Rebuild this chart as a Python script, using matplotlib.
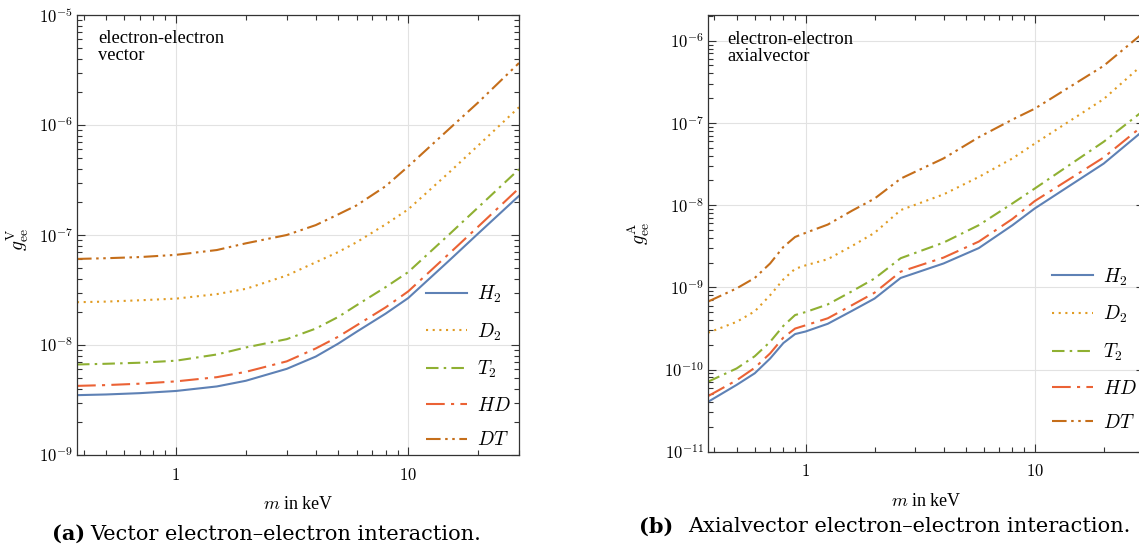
import numpy as np
import matplotlib
matplotlib.use('Agg')
import matplotlib.pyplot as plt
from matplotlib.ticker import LogLocator, FixedLocator, FuncFormatter, NullFormatter

plt.rcParams['mathtext.fontset'] = 'cm'
plt.rcParams['font.family'] = ['Liberation Serif', 'DejaVu Serif']

# ---- data (m in keV) ----
# (a) vector coupling
m_vec = [0.375, 0.5, 0.7, 1.0, 1.5, 2.0, 3.0, 4.0, 5.0, 6.0, 8.0, 10.0, 15.0, 20.0, 30.0]
h2_vec = [3.5e-9, 3.55e-9, 3.65e-9, 3.82e-9, 4.2e-9, 4.73e-9, 6.07e-9, 7.85e-9, 1.03e-8,
          1.32e-8, 1.93e-8, 2.67e-8, 5.85e-8, 1.03e-7, 2.27e-7]
d2_vec = [2.45e-8, 2.48e-8, 2.55e-8, 2.64e-8, 2.9e-8, 3.24e-8, 4.28e-8, 5.65e-8, 7.0e-8,
          8.6e-8, 1.25e-7, 1.71e-7, 3.7e-7, 6.5e-7, 1.45e-6]
t2_vec = [6.65e-9, 6.75e-9, 6.9e-9, 7.2e-9, 8.2e-9, 9.5e-9, 1.13e-8, 1.41e-8, 1.8e-8,
          2.3e-8, 3.36e-8, 4.6e-8, 1.01e-7, 1.78e-7, 3.96e-7]
hd_vec = [4.25e-9, 4.32e-9, 4.45e-9, 4.67e-9, 5.1e-9, 5.7e-9, 7.1e-9, 9.3e-9, 1.19e-8,
          1.51e-8, 2.2e-8, 3.07e-8, 6.76e-8, 1.19e-7, 2.66e-7]
dt_vec = [6.06e-8, 6.15e-8, 6.3e-8, 6.6e-8, 7.3e-8, 8.4e-8, 1.0e-7, 1.23e-7, 1.54e-7,
          1.86e-7, 2.78e-7, 4.2e-7, 9.2e-7, 1.6e-6, 3.66e-6]

# (b) axialvector coupling
m_ax = [0.375, 0.5, 0.6, 0.7, 0.8, 0.9, 1.0, 1.25, 1.6, 2.0, 2.6, 4.0, 5.7, 8.0, 10.0, 20.0, 30.0]
h2_ax = [4.04e-11, 6.5e-11, 9.0e-11, 1.36e-10, 2.1e-10, 2.7e-10, 2.9e-10, 3.6e-10, 5.2e-10,
         7.3e-10, 1.3e-9, 1.95e-9, 3.0e-9, 5.7e-9, 9.1e-9, 3.2e-8, 8.2e-8]
d2_ax = [2.8e-10, 3.8e-10, 5.1e-10, 8.0e-10, 1.25e-9, 1.68e-9, 1.85e-9, 2.2e-9, 3.2e-9,
         4.6e-9, 8.7e-9, 1.35e-8, 2.2e-8, 3.7e-8, 5.6e-8, 1.95e-7, 5.3e-7]
t2_ax = [7.1e-11, 1.03e-10, 1.45e-10, 2.17e-10, 3.4e-10, 4.6e-10, 5.0e-10, 6.2e-10, 9.0e-10,
         1.28e-9, 2.26e-9, 3.5e-9, 5.7e-9, 1.05e-8, 1.59e-8, 5.9e-8, 1.43e-7]
hd_ax = [4.74e-11, 7.4e-11, 1.05e-10, 1.57e-10, 2.45e-10, 3.15e-10, 3.45e-10, 4.2e-10, 6.1e-10,
         8.6e-10, 1.55e-9, 2.3e-9, 3.6e-9, 6.8e-9, 1.12e-8, 3.8e-8, 9.5e-8]
dt_ax = [6.7e-10, 9.7e-10, 1.3e-9, 1.95e-9, 3.1e-9, 4.1e-9, 4.6e-9, 5.8e-9, 8.6e-9,
         1.2e-8, 2.1e-8, 3.7e-8, 6.7e-8, 1.1e-7, 1.49e-7, 4.95e-7, 1.27e-6]

labels = ['$H_2$', '$D_2$', '$T_2$', '$HD$', '$DT$']
colors = ['#5E81B5', '#E19C24', '#8FB032', '#EB6235', '#C56E1A']
styles = ['-', (0, (1, 2.2)), (0, (6, 2.5, 1.2, 2.5)), (0, (9, 3, 1.5, 3)),
          (0, (7, 2.2, 1.2, 2.2, 1.2, 2.2))]

fig = plt.figure(figsize=(11.39, 5.51), dpi=100)
ax1 = fig.add_axes([77 / 1139, 1 - 455 / 551, 442 / 1139, 440 / 551])
ax2 = fig.add_axes([708 / 1139, 1 - 451.7 / 551, 436 / 1139, 436.4 / 551])


def style_axis(ax, ylo, yhi):
    ax.set_xscale('log')
    ax.set_yscale('log')
    ax.set_xlim(0.375, 30)
    ax.set_ylim(ylo, yhi)
    ax.xaxis.set_major_locator(FixedLocator([1, 10]))
    ax.xaxis.set_major_formatter(FuncFormatter(lambda v, p: r'$\mathbf{%d}$' % round(v)))
    ax.xaxis.set_minor_locator(LogLocator(base=10, subs=np.arange(2, 10)))
    ax.xaxis.set_minor_formatter(NullFormatter())
    ax.yaxis.set_major_locator(LogLocator(base=10, numticks=20))
    ax.yaxis.set_major_formatter(FuncFormatter(lambda v, p: r'$\mathbf{10}^{%d}$' % round(np.log10(v))))
    ax.yaxis.set_minor_locator(LogLocator(base=10, subs=np.arange(2, 10), numticks=20))
    ax.yaxis.set_minor_formatter(NullFormatter())
    ax.tick_params(which='both', direction='in', top=True, right=True, color='0.2', width=0.8)
    ax.tick_params(which='major', length=6, labelsize=12)
    ax.tick_params(which='minor', length=3.5)
    ax.tick_params(axis='x', which='major', pad=9)
    ax.tick_params(axis='y', which='major', pad=3)
    for sp in ax.spines.values():
        sp.set_color('0.2')
        sp.set_linewidth(0.9)
    ax.grid(True, which='major', color='#e2e2e2', linewidth=0.8)
    ax.set_axisbelow(True)
    ax.set_xlabel('$m$ in keV', fontsize=13, labelpad=9)


style_axis(ax1, 1e-9, 1e-5)
style_axis(ax2, 1e-11, 2.04e-6)

for ys, lab, c, ls in zip([h2_vec, d2_vec, t2_vec, hd_vec, dt_vec], labels, colors, styles):
    ax1.plot(m_vec, ys, color=c, linestyle=ls, linewidth=1.5, label=lab)
for ys, lab, c, ls in zip([h2_ax, d2_ax, t2_ax, hd_ax, dt_ax], labels, colors, styles):
    ax2.plot(m_ax, ys, color=c, linestyle=ls, linewidth=1.5, label=lab)

ax1.set_ylabel(r'$g_{\rm ee}^{\rm V}$', fontsize=14)
ax1.yaxis.set_label_coords(-0.105, 0.49)
ax2.set_ylabel(r'$g_{\rm ee}^{\rm A}$', fontsize=14)
ax2.yaxis.set_label_coords(-0.128, 0.5)

ax1.text(0.048, 0.965, 'electron-electron\nvector', transform=ax1.transAxes,
         ha='left', va='top', fontsize=13.3, linespacing=1.0)
ax2.text(0.044, 0.965, 'electron-electron\naxialvector', transform=ax2.transAxes,
         ha='left', va='top', fontsize=13.3, linespacing=1.0)

leg_kw = dict(frameon=False, fontsize=14, handlelength=2.1, handletextpad=0.5,
              labelspacing=0.85, borderpad=0, borderaxespad=0, loc='upper left')
ax1.legend(bbox_to_anchor=(0.79, 0.39), **leg_kw)
ax2.legend(bbox_to_anchor=(0.79, 0.425), **leg_kw)

# captions
cap = dict(fontsize=15, family=['DejaVu Serif'], va='center')
fig.text(85 / 1139, 1 - 534 / 551, '(a)', fontweight='bold', ha='right', **cap)
fig.text(90 / 1139, 1 - 534 / 551, 'Vector electron\u2013electron interaction.', ha='left', **cap)
fig.text(673 / 1139, 1 - 527 / 551, '(b)', fontweight='bold', ha='right', **cap)
fig.text(688 / 1139, 1 - 527 / 551, 'Axialvector electron\u2013electron interaction.', ha='left', **cap)

fig.savefig('out.png', dpi=100)
